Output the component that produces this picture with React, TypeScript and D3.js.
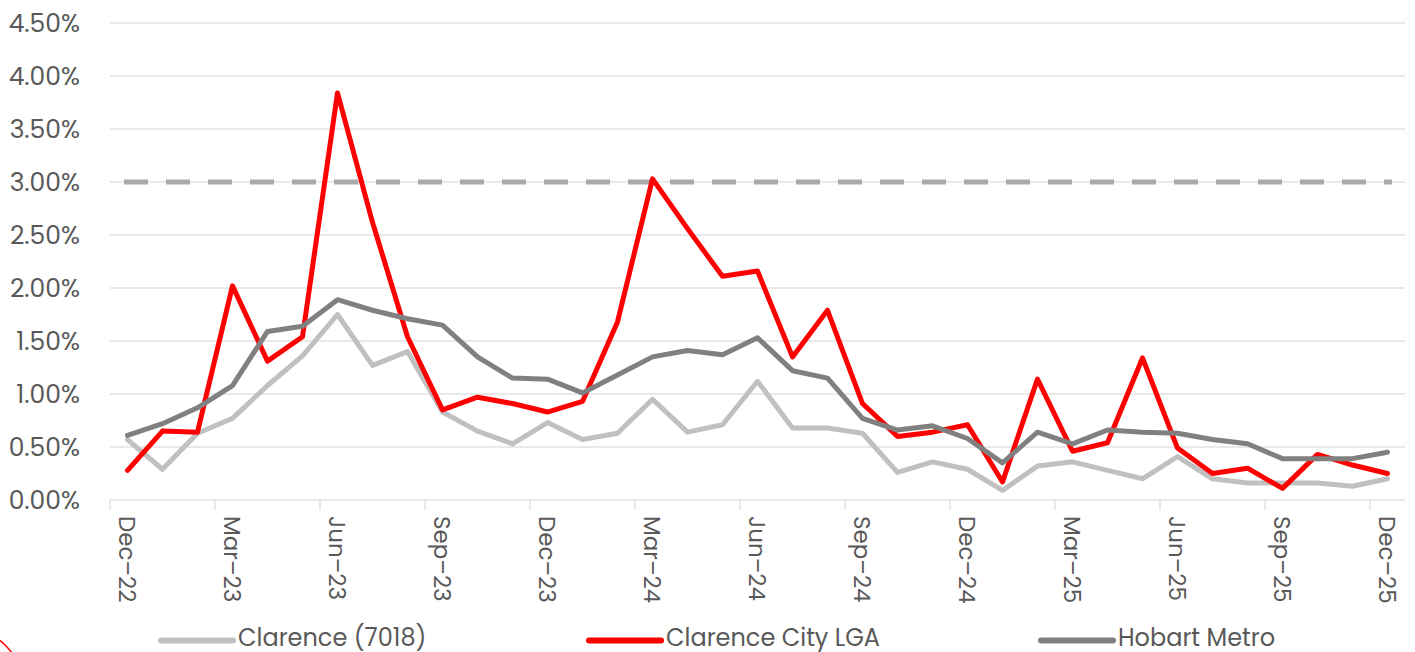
import React from "react";
import * as d3 from "d3";

const months = [
  "Dec-22","Jan-23","Feb-23","Mar-23","Apr-23","May-23","Jun-23","Jul-23","Aug-23","Sep-23","Oct-23","Nov-23",
  "Dec-23","Jan-24","Feb-24","Mar-24","Apr-24","May-24","Jun-24","Jul-24","Aug-24","Sep-24","Oct-24","Nov-24",
  "Dec-24","Jan-25","Feb-25","Mar-25","Apr-25","May-25","Jun-25","Jul-25","Aug-25","Sep-25","Oct-25","Nov-25","Dec-25",
];

const clarence7018 = [
  0.57, 0.29, 0.63, 0.77, 1.08, 1.36, 1.75, 1.27, 1.40, 0.83, 0.65, 0.53,
  0.73, 0.57, 0.63, 0.95, 0.64, 0.71, 1.12, 0.68, 0.68, 0.63, 0.26, 0.36,
  0.29, 0.09, 0.32, 0.36, 0.28, 0.20, 0.41, 0.20, 0.16, 0.16, 0.16, 0.13, 0.20,
];

const clarenceLGA = [
  0.28, 0.65, 0.64, 2.02, 1.31, 1.54, 3.84, 2.62, 1.54, 0.85, 0.97, 0.91,
  0.83, 0.93, 1.68, 3.03, 2.56, 2.11, 2.16, 1.35, 1.79, 0.91, 0.60, 0.64,
  0.71, 0.17, 1.14, 0.46, 0.54, 1.34, 0.49, 0.25, 0.30, 0.11, 0.43, 0.33, 0.25,
];

const hobartMetro = [
  0.61, 0.72, 0.87, 1.08, 1.59, 1.64, 1.89, 1.79, 1.71, 1.65, 1.35, 1.15,
  1.14, 1.01, 1.18, 1.35, 1.41, 1.37, 1.53, 1.22, 1.15, 0.77, 0.66, 0.70,
  0.58, 0.35, 0.64, 0.53, 0.66, 0.64, 0.63, 0.57, 0.53, 0.39, 0.39, 0.39, 0.45,
];

const targetValue = 3.0;
const yTicks = [0, 0.5, 1, 1.5, 2, 2.5, 3, 3.5, 4, 4.5];
const labelEvery = 3;

const seriesList = [
  { name: "Clarence (7018)", values: clarence7018, color: "#C0C0C0" },
  { name: "Clarence City LGA", values: clarenceLGA, color: "#FF0000" },
  { name: "Hobart Metro", values: hobartMetro, color: "#808080" },
];

const legendX = [161, 589, 1041];

export default function App() {
  const W = 1415, H = 652;
  const left = 110, right = 1405, top = 23, bottom = 500;
  const font = "Poppins, 'Noto Sans', sans-serif";

  const x = d3.scaleBand<number>().domain(months.map((_, i) => i)).range([left, right]).padding(0);
  const bw = x.bandwidth();
  const cx = (i: number) => (x(i) as number) + bw / 2;
  const y = d3.scaleLinear().domain([0, 4.5]).range([bottom, top]);

  const line = d3.line<number>().x((_, i) => cx(i)).y((d) => y(d));
  const last = months.length - 1;
  const targetLine = d3
    .line<number>()
    .x((_, i) => cx(i) + (i === 0 ? -3.5 : i === last ? 4.5 : 0))
    .y((d) => y(d));
  const targetSeries = months.map(() => targetValue);

  const tickIdx = months.map((_, i) => i).filter((i) => i % labelEvery === 0);

  return (
    <svg width={W} height={H} style={{ position: "absolute", left: 0, top: 0, background: "#fff" }}>
      {yTicks.map((t) => (
        <line key={t} x1={left} x2={right} y1={y(t)} y2={y(t)} stroke="#E2E2E2" strokeWidth={1.5} />
      ))}
      {yTicks.map((t) => (
        <text key={"l" + t} x={80} y={y(t)} dy="0.36em" textAnchor="end" fontFamily={font} fontSize={25} fill="#595959">
          {t.toFixed(2) + "%"}
        </text>
      ))}
      {tickIdx.map((i) => (
        <line key={"t" + i} x1={x(i) as number} x2={x(i) as number} y1={bottom} y2={bottom + 10} stroke="#E2E2E2" strokeWidth={1.5} />
      ))}
      {tickIdx.map((i) => (
        <text
          key={"x" + i}
          transform={`translate(${cx(i)},${bottom + 16}) rotate(90)`}
          dy="0.36em"
          textAnchor="start"
          fontFamily={font}
          fontSize={23}
          fill="#595959"
        >
          {months[i].replace("-", "–")}
        </text>
      ))}
      <path
        d={targetLine(targetSeries) || ""}
        fill="none"
        stroke="#A9A9AE"
        strokeWidth={5}
        strokeDasharray="24 18"
        strokeLinecap="butt"
      />
      {seriesList.map((s) => (
        <path
          key={s.name}
          d={line(s.values) || ""}
          fill="none"
          stroke={s.color}
          strokeWidth={5}
          strokeLinejoin="round"
          strokeLinecap="round"
        />
      ))}
      {seriesList.map((s, i) => (
        <g key={"lg" + i}>
          <line x1={legendX[i]} x2={legendX[i] + 72} y1={640.5} y2={640.5} stroke={s.color} strokeWidth={6} strokeLinecap="round" />
          <text x={legendX[i] + 77} y={646} fontFamily={font} fontSize={24} fill="#595959">
            {s.name}
          </text>
        </g>
      ))}
      <path d={d3.arc()({ innerRadius: 77, outerRadius: 78.5, startAngle: -0.2, endAngle: 1.4 }) || ""} transform="translate(-50,700)" fill="#FF0000" />
    </svg>
  );
}
